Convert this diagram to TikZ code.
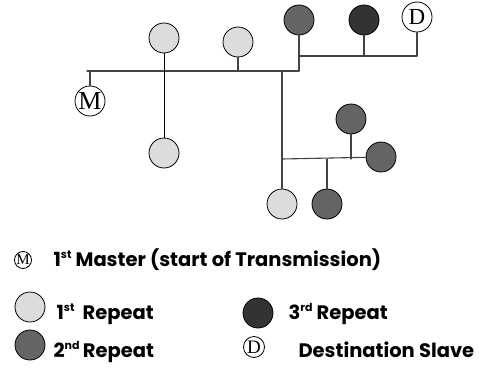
\documentclass[tikz,border=0pt]{standalone}
\usepackage{fontspec}
\setmainfont{Poppins}
\newfontfamily\tms{Liberation Serif}
\definecolor{lightrep}{HTML}{DCDCDC}
\definecolor{midrep}{HTML}{646464}
\definecolor{darkrep}{HTML}{333333}
\definecolor{busline}{HTML}{444444}
\newcommand{\ordsup}[1]{\raisebox{7.5pt}{\fontsize{11}{11}\selectfont #1}}
\tikzset{
	node/.style={circle, draw=black, line width=0.8pt, inner sep=0pt, minimum size=30pt},
	first/.style={node, fill=lightrep},
	second/.style={node, fill=midrep},
	third/.style={node, fill=darkrep},
	lettered/.style={node, fill=white, font=\tms\fontsize{26}{26}\selectfont},
	legend/.style={anchor=base west, font=\bfseries\fontsize{19.5}{22}\selectfont},
}
\begin{document}
\begin{tikzpicture}[x=1pt, y=-1pt, line join=round, line cap=round]
	\useasboundingbox (0,0) rectangle (479,369);
	% stations
	\node[lettered] (M) at (90,101) {M};
	\node[lettered, font=\tms\fontsize{23}{23}\selectfont] (D) at (417,17) {D};
	\node[first] (a1) at (164,38) {};
	\node[first] (a2) at (238,42) {};
	\node[first] (a3) at (164,153) {};
	\node[first] (a4) at (282,204) {};
	\node[second] (b1) at (299,20) {};
	\node[second] (b2) at (351,119) {};
	\node[second] (b3) at (381,157) {};
	\node[second] (b4) at (327,204) {};
	\node[third] (c1) at (364,20) {};
	% bus
	\coordinate (busL) at (87,71);
	\coordinate (busR) at (299,71);
	\coordinate (top) at (299,56);
	\coordinate (drop) at (282,71);
	\coordinate (low) at (282,159);
	\begin{scope}[busline, line width=1.1pt]
		\draw (busL)--(busR)--(b1);
		\draw (top)-|(D);
		\draw (c1)--(c1|-top);
		\draw (M)--(M|-busL);
		\draw (a2)--(a2|-busL);
		\draw (drop)--(a4);
		\draw (low)--(b3);
		\draw (b2)--(b2|-low);
		\draw (b4)--(b4|-low);
	\end{scope}
	\draw[line width=0.9pt] (a1)--(a3);
	% legend
	\node[lettered, minimum size=17pt, font=\tms\fontsize{15}{15}\selectfont] (lm) at (23,260) {M};
	\node[first] (l1) at (30,307) {};
	\node[second] (l2) at (30,345) {};
	\node[third] (l3) at (258,313) {};
	\node[lettered, minimum size=21pt, font=\tms\fontsize{19}{19}\selectfont] (ld) at (254,347) {D};
	\node[legend] (tm) at (50,266) {1\ordsup{st} Master (start of Transmission)};
	\node[legend] (t1) at (53,319) {1\ordsup{st}\ \ Repeat};
	\node[legend] (t2) at (50,357) {2\ordsup{nd}\,Repeat};
	\node[legend] (t3) at (285,319) {3\ordsup{rd} Repeat};
	\node[legend] (td) at (295,357) {Destination Slave};
\end{tikzpicture}
\end{document}
